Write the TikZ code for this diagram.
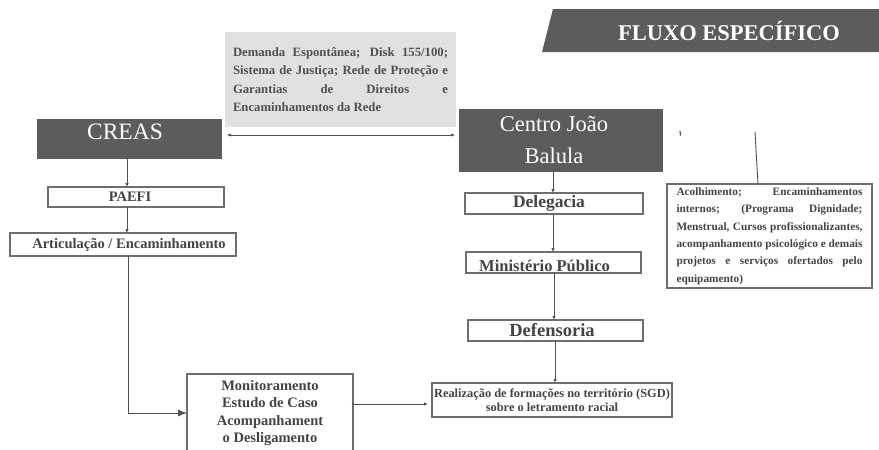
\documentclass[tikz,border=0pt]{standalone}
\usepackage{fontspec}
\setmainfont{Liberation Serif}
\usetikzlibrary{arrows.meta,calc}
\definecolor{darkfill}{HTML}{5C5C5C}
\definecolor{boxline}{HTML}{6E6E6E}
\definecolor{txt}{HTML}{444444}
\definecolor{txtlight}{HTML}{505050}
\definecolor{lightfill}{HTML}{E1E1E1}
\definecolor{lnk}{HTML}{505050}
\begin{document}
\begin{tikzpicture}[x=1pt,y=-1pt,
  darkbox/.style={fill=darkfill, draw=none, text=white, inner sep=0pt, outer sep=0pt, align=center},
  wbox/.style={draw=boxline, line width=1.5pt, fill=white, text=txt, inner sep=0pt, outer sep=0pt, align=center},
  link/.style={draw=lnk, line width=0.9pt},
  tip/.style={-{Latex[length=4pt,width=3.5pt]}},
  bigtip/.style={-{Latex[length=9pt,width=7pt]}},
  dbl/.style={{Latex[length=5pt,width=3pt]}-{Latex[length=5pt,width=3pt]}}
]
\useasboundingbox (0,0) rectangle (879,450);

% title banner
\fill[darkfill] (553,9) -- (879,9) -- (879,52) -- (542,52) -- cycle;
\node (title) at (729,31) [text=white, font=\bfseries\fontsize{22.5}{25}\selectfont] {FLUXO ESPECÍFICO};

% grey input box
\node (demanda) [fill=lightfill, text=txtlight, text width=215pt, inner xsep=8pt, inner ysep=0pt,
  minimum height=95pt, align=justify, font=\bfseries\fontsize{12.7}{18.3}\selectfont] at (340.5,79.5)
  {Demanda Espontânea; Disk 155/100;\linebreak Sistema de Justiça; Rede de Proteção e\linebreak Garantias de Direitos e\linebreak Encaminhamentos da Rede};

% dark headers
\node (creas) [darkbox, minimum width=185pt, minimum height=40pt, font=\fontsize{23.5}{26}\selectfont,
  text height=15pt, text depth=15pt] at (129.5,139) {CREAS\hspace*{9pt}};
\node (centro) [darkbox, minimum width=204pt, minimum height=63pt, font=\fontsize{22.5}{32}\selectfont]
  at (561,140) {Centro João\hspace*{14pt}\\Balula\hspace*{14pt}};

% left column
\node (paefi) [wbox, minimum width=176pt, minimum height=20pt, font=\bfseries\fontsize{14.5}{16}\selectfont] at (136,197) {PAEFI\hspace*{12pt}};
\node (artic) [wbox, minimum width=226pt, minimum height=23pt, font=\bfseries\fontsize{14.5}{16}\selectfont] at (123,244.5) {\hspace*{12pt}Articulação / Encaminhamento};
\node (monit) [wbox, minimum width=166pt, minimum height=78pt, font=\bfseries\fontsize{14.5}{17.4}\selectfont] at (270,413)
  {Monitoramento\\Estudo de Caso\\Acompanhament\\o Desligamento};

% right column
\node (deleg) [wbox, minimum width=178pt, minimum height=21pt, font=\bfseries\fontsize{17.5}{19}\selectfont] at (554,203.5) {Delegacia\hspace*{10pt}};
\node (minis) [wbox, minimum width=175pt, minimum height=21pt, font=\bfseries\fontsize{16.5}{18}\selectfont,
  text height=18.6pt, text depth=0pt] at (553.5,262.5) {Ministério Público\hspace*{18pt}};
\node (defen) [wbox, minimum width=175pt, minimum height=21pt, font=\bfseries\fontsize{18.5}{20}\selectfont] at (555.5,330.5) {Defensoria\hspace*{7pt}};
\node (real) [wbox, minimum width=240pt, minimum height=34pt, font=\bfseries\fontsize{12.4}{14.5}\selectfont] at (552,400)
  {Realização de formações no território (SGD)\\sobre o letramento racial};

% services box
\node (acolh) [wbox, text width=186pt, inner xsep=9.5pt, inner ysep=0pt, minimum height=104pt, align=justify,
  font=\bfseries\fontsize{11.3}{17.4}\selectfont] at (769.5,236)
  {Acolhimento; Encaminhamentos\linebreak internos; (Programa Dignidade;\linebreak Menstrual, Cursos profissionalizantes,\linebreak acompanhamento psicológico e demais\linebreak projetos e serviços ofertados pelo\linebreak equipamento)};

% connectors
\coordinate (da) at ($(creas.east)+(4,-4)$);
\draw[link, dbl, shorten >=3pt] (da) -- (da -| centro.west);

\coordinate (c1) at ($(creas.south)+(-2.5,0)$);
\draw[link, tip] (c1) -- (c1 |- paefi.north);
\coordinate (p1) at (paefi.south -| c1);
\draw[link, tip] (p1) -- (p1 |- artic.north);
\coordinate (a1) at ($(artic.south)+(5,0)$);
\draw[link, bigtip] (a1) |- (monit.west);

\coordinate (m1) at ($(monit.east)+(0,-9)$);
\draw[link, tip, shorten >=4pt] (m1) -- (m1 -| real.west);
\fill[lnk] (m1) circle (1.2pt);

\coordinate (d0) at ($(centro.south)+(-8,0)$);
\draw[link, tip] (d0) -- (d0 |- deleg.north);
\coordinate (d1) at (deleg.south -| d0);
\draw[link, tip] (d1) -- (d1 |- minis.north);
\coordinate (d2) at ($(minis.south -| d0)+(1,0)$);
\draw[link, tip] (d2) -- (d2 |- defen.north);
\coordinate (d3) at ($(defen.south -| d0)+(2,0)$);
\draw[link, tip] (d3) -- (d3 |- real.north);

\coordinate (lt) at (755,132);
\coordinate (lb) at (acolh.north -| 758,0);
\draw[link] (lt) -- (lb);
\draw[lnk, line width=1.2pt] (680,131) -- (680.5,135.5);
\end{tikzpicture}
\end{document}
